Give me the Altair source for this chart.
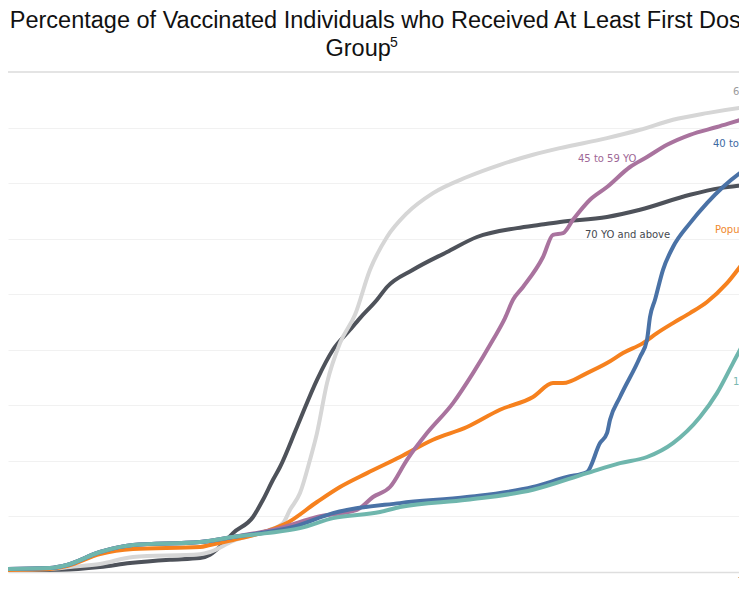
import altair as alt
import pandas as pd

# ---------------- data (days since 1 Jan 2021, % with at least first dose) ----------------
series_names = ["70 YO and above", "60 to 69 YO", "Population", "45 to 59 YO", "40 to 44 YO", "12 to 39 YO"]
series_colors = ["#4e525a", "#d6d6d6", "#f6811e", "#a9739e", "#4a72a6", "#6fb6ad"]

days_70 = [0, 15, 25, 32.5, 42.5, 50, 52.5, 55.5, 58.25, 63.25, 65.75, 68.25, 70, 74.25, 79.25, 83.25,
           87.5, 90, 94.25, 96.75, 103.25, 111.75, 119.25, 129.25, 135, 140, 151.75, 160, 172.5, 180, 186.75, 192.5]
pct_70 = [0.3, 0.4, 0.9, 1.6, 2.2, 2.5, 3.1, 4.9, 7.0, 9.9, 13.0, 16.6, 18.9, 26.1, 34.6, 40.0,
          43.6, 45.7, 49.0, 51.3, 54.4, 57.6, 60.3, 61.9, 62.5, 63.0, 63.9, 65.2, 67.9, 69.1, 69.7, 70.2]

days_60 = [0, 12.5, 17.5, 25, 33.25, 50, 52.5, 58.25, 66.75, 70.75, 72.5, 75, 77.5, 79.25, 81.75, 85,
           88.75, 92.5, 96.75, 101.75, 108.25, 116.75, 125, 133.25, 140, 151.75, 160, 168.25, 176.75, 186.75, 192.5]
pct_60 = [0.36, 0.54, 0.9, 1.44, 2.7, 3.2, 3.6, 5.6, 7.4, 8.8, 11.2, 14.2, 20.2, 25.0, 34.0, 41.2,
          46.3, 54.4, 60.3, 64.6, 68.2, 71.1, 73.3, 75.1, 76.3, 78.1, 79.6, 81.4, 82.6, 83.7, 84.2]

days_pop = [0, 12.5, 16.75, 25, 33.25, 50, 52.5, 58.25, 66.75, 71.75, 79.25, 85, 91.75, 100, 108.25, 116.75,
            125, 133.25, 138.25, 140.75, 146.75, 151.75, 155.75, 160.75, 164.25, 168.25, 172.5, 176.75, 181.75, 186.75, 192.5]
pct_pop = [0.36, 0.54, 1.08, 3.24, 4.14, 4.5, 4.86, 5.76, 7.38, 8.82, 12.6, 15.3, 17.8, 20.7, 23.8, 26.1,
           29.2, 31.5, 34.0, 34.0, 35.8, 37.6, 39.4, 41.2, 43.0, 44.8, 46.6, 48.6, 52.0, 56.5, 60.7]

days_45 = [0, 12.5, 16.75, 25, 33.25, 50, 58.25, 70, 79.25, 89.25, 93.25, 97.5, 101.75, 106.75, 113.25, 118.25,
           123.25, 126.25, 128.25, 130.75, 135.75, 138.25, 140.75, 143.25, 147.5, 151.75, 157.5, 161.75, 166.75,
           172.5, 179.25, 186.75, 192.5]
pct_45 = [0.54, 0.72, 1.26, 3.6, 4.86, 5.4, 6.3, 7.9, 9.9, 11.2, 13.5, 15.3, 20.2, 25.0, 30.4, 35.8,
          41.8, 45.7, 49.0, 51.3, 56.7, 60.7, 61.0, 63.4, 67.0, 69.3, 72.9, 74.7, 76.9,
          78.7, 80.1, 81.7, 82.8]

days_40 = [0, 12.5, 16.75, 25, 33.25, 50, 58.25, 73.25, 83.25, 100, 116.75, 133.25, 141.75, 146.75, 150,
           151.75, 152.5, 155, 160, 161.75, 162.5, 163.75, 165.75, 168.25, 172.5, 176.75, 180.75, 186.75, 192.5]
pct_40 = [0.54, 0.72, 1.26, 3.6, 4.86, 5.4, 6.3, 8.1, 10.6, 12.4, 13.5, 15.3, 17.1, 18.0, 23.2,
          25.0, 27.4, 31.5, 38.7, 41.8, 45.9, 49.0, 54.4, 58.5, 62.8, 66.4, 69.3, 72.7, 75.1]

days_12 = [0, 12.5, 16.75, 25, 33.25, 50, 58.25, 66.75, 75, 83.25, 95, 100, 116.75, 133.25, 146.75,
           155, 161.75, 168.25, 175, 179.25, 183.25, 186.75, 192.5]
pct_12 = [0.54, 0.72, 1.26, 3.6, 4.86, 5.4, 6.3, 7.0, 7.9, 9.7, 10.8, 11.7, 13.0, 14.8, 17.8,
          19.6, 20.7, 23.2, 27.9, 32.2, 37.6, 42.3, 49.0]

label_text = ["60 to 69 YO", "45 to 59 YO", "40 to 44 YO", "70 YO and above", "Eligible", "Population", "12 to 39 YO"]
label_day = [183.25, 144.5, 178.25, 146.25, 186, 178.75, 183.25]
label_pct = [85.9, 73.8, 76.5, 60.1, 64.4, 61.0, 33.7]
label_colors = ["#9b9b9b", "#9e6896", "#3d6aa3", "#45484f", "#f0892d", "#f0892d", "#7ab8b0"]

title_line1 = "Percentage of Vaccinated Individuals who Received At Least First Dose by Age"
title_line2 = "Group"
title_sup = "5"

# ---------------- build tables ----------------
base = pd.Timestamp("2021-01-01")


def to_dates(days):
    return [(base + pd.Timedelta(days=d)).strftime("%Y-%m-%dT%H:%M:%S") for d in days]


series_data = [
    (series_names[0], days_70, pct_70),
    (series_names[1], days_60, pct_60),
    (series_names[2], days_pop, pct_pop),
    (series_names[3], days_45, pct_45),
    (series_names[4], days_40, pct_40),
    (series_names[5], days_12, pct_12),
]
frames = []
for name, d, p in series_data:
    frames.append(pd.DataFrame({"series": name, "date": to_dates(d), "pct": p}))
df = pd.concat(frames, ignore_index=True)

labels_df = pd.DataFrame({"label": label_text, "date": to_dates(label_day),
                          "pct": label_pct, "c": label_colors})

x_scale = alt.Scale(domain=[alt.DateTime(year=2021, month=1, date=3),
                            alt.DateTime(year=2021, month=7, date=11, hours=18)])
y_scale = alt.Scale(domain=[0, 90], nice=False)

x_axis = alt.Axis(values=[alt.DateTime(year=2021, month=7, date=7)], format="%-d %b",
                  title=None, grid=False, ticks=False, tickSize=0, labelFlush=False,
                  domainColor="#dedede", domainWidth=1.5, labelColor="#666666",
                  labelFont="DejaVu Sans", labelFontSize=10, labelPadding=12,
                  labelBaseline="alphabetic")
y_axis = alt.Axis(values=list(range(0, 90, 10)), title=None, labels=False, ticks=False,
                  domain=False, grid=True, gridColor="#f1f1f1", gridWidth=1)

top_rule = alt.Chart(pd.DataFrame({"pct": [90]})).mark_rule(
    color="#e4e4e4", strokeWidth=2).encode(y=alt.Y("pct:Q", scale=y_scale))

lines = alt.Chart(df).mark_line(strokeWidth=4, clip=True, strokeJoin="round", strokeCap="round",
                                interpolate="monotone").encode(
    x=alt.X("date:T", scale=x_scale, axis=x_axis),
    y=alt.Y("pct:Q", scale=y_scale, axis=y_axis),
    color=alt.Color("series:N", scale=alt.Scale(domain=series_names, range=series_colors), legend=None),
)

labels = alt.Chart(labels_df).mark_text(
    align="left", baseline="alphabetic", font="DejaVu Sans", fontSize=10).encode(
    x=alt.X("date:T", scale=x_scale),
    y=alt.Y("pct:Q", scale=y_scale),
    text="label:N",
    color=alt.Color("c:N", scale=None),
)

t1 = alt.Chart(pd.DataFrame({"t": [title_line1]})).mark_text(
    align="left", baseline="alphabetic", font="Liberation Sans", fontSize=23.5, color="#111111").encode(
    text="t:N", x=alt.value(1.8), y=alt.value(-44.5))
t2 = alt.Chart(pd.DataFrame({"t": [title_line2]})).mark_text(
    align="left", baseline="alphabetic", font="Liberation Sans", fontSize=23.5, color="#111111").encode(
    text="t:N", x=alt.value(317.5), y=alt.value(-16.5))
t3 = alt.Chart(pd.DataFrame({"t": [title_sup]})).mark_text(
    align="left", baseline="alphabetic", font="Liberation Sans", fontSize=14, color="#111111").encode(
    text="t:N", x=alt.value(382), y=alt.value(-25))

chart = alt.layer(top_rule, lines, labels, t1, t2, t3).properties(
    width=759, height=500,
    autosize=alt.AutoSizeParams(type="none"),
    padding={"left": 0, "top": 64, "right": -28, "bottom": 16},
).configure_view(strokeWidth=0)

chart.save("out.html", embed_options={"renderer": "svg", "actions": False})
